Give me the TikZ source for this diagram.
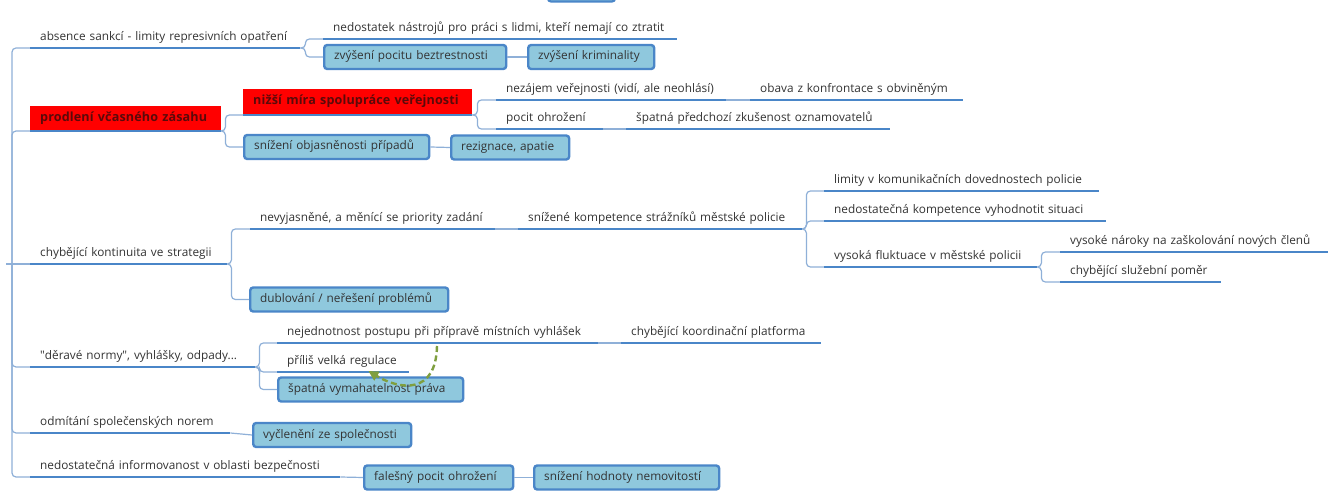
\documentclass[tikz,border=0pt]{standalone}
\usepackage{fontspec}
\setmainfont{Open Sans}
\usetikzlibrary{arrows.meta,calc}
\definecolor{ublue}{HTML}{4A86C8}
\definecolor{cblue}{HTML}{8FB0D8}
\definecolor{bfill}{HTML}{8FC8DD}
\definecolor{tgray}{HTML}{333333}
\definecolor{rtext}{HTML}{5A0A0A}
\definecolor{ggreen}{HTML}{7F9F3F}
\tikzset{
  base/.style={font=\fontsize{11.8}{14}\selectfont, text=tgray},
  topic/.style={base, anchor=south west, inner xsep=10pt, inner ysep=0pt,
    text height=9pt, text depth=7.5pt, text width=#1},
  uline/.style={draw=ublue, line width=2.4pt},
  conn/.style={draw=cblue, line width=1.2pt, rounded corners=4pt},
  bluebox/.style={base, anchor=west, draw=ublue, line width=2.4pt, fill=bfill,
    rounded corners=3pt, inner xsep=10pt, inner ysep=0pt, minimum height=24pt,
    text height=9pt, text depth=3pt, text width=#1},
  redbox/.style={anchor=south west, fill=red, text=rtext,
    font=\fontsize{12.6}{14}\selectfont\bfseries\addfontfeature{LetterSpace=1},
    inner xsep=10pt, inner ysep=0pt,
    minimum height=#1, text height=9pt, text depth=3pt},
  garrow/.style={draw=ggreen, line width=2.4pt, dash pattern=on 6pt off 3.5pt,
    -{Triangle[length=10pt,width=10pt]}, fill=none},
}
\begin{document}
\begin{tikzpicture}[x=1pt,y=-1pt]
\useasboundingbox (0,0) rectangle (1331,494);
\fill[white] (0,0) rectangle (1331,494);

% partial box at the top edge
\draw[draw=ublue, line width=2.2pt, fill=bfill, rounded corners=3pt] (548,-30) rectangle (615,1.5);

% trunk
\coordinate (root) at (6,264);
\coordinate (tr) at (12,264);

% main topics
\node[topic=250pt] (t1) at (30,48) {absence sankcí - limity represivních opatření};
\node[redbox=25pt, text width=171pt] (r1) at (30,131) {prodlení včasného zásahu};
\node[topic=177pt] (t3) at (30,264) {chybějící kontinuita ve strategii};
\node[topic=205pt] (t4) at (30,367) {\textquotedbl děravé normy\textquotedbl, vyhlášky, odpady...};
\node[topic=180pt] (t5) at (30,433) {odmítání společenských norem};
\node[topic=290pt] (t6) at (30,477) {nedostatečná informovanost v oblasti bezpečnosti};

% branch 1
\node[topic=334pt] (c1a) at (323,39) {nedostatek nástrojů pro práci s lidmi, kteří nemají co ztratit};
\node[bluebox=162pt] (b1) at (323,57) {zvýšení pocitu beztrestnosti};
\node[bluebox=106pt] (b2) at (527,57) {zvýšení kriminality};

% branch 2
\node[redbox=26pt, text width=209pt] (r2) at (243,115) {nižší míra spolupráce veřejnosti};
\node[bluebox=165pt] (b3) at (243,147) {snížení objasněnosti případů};
\node[bluebox=98pt] (b4) at (450,147.5) {rezignace, apatie};
\node[topic=210pt] (p1) at (496,100) {nezájem veřejnosti (vidí, ale neohlásí)};
\node[topic=193pt] (p2) at (750,100) {obava z konfrontace s obviněným};
\node[topic=87pt] (p3) at (496,129) {pocit ohrožení};
\node[topic=244pt] (p4) at (626,129) {špatná předchozí zkušenost oznamovatelů};

% branch 3
\node[topic=225pt] (n1) at (250,229) {nevyjasněné, a měnící se priority zadání};
\node[topic=264pt] (n2) at (518,229) {snížené kompetence strážníků městské policie};
\node[topic=255pt] (n3) at (824,191) {limity v komunikačních dovednostech policie};
\node[topic=262pt] (n4) at (824,221) {nedostatečná kompetence vyhodnotit situaci};
\node[topic=193pt] (n5) at (824,267) {vysoká fluktuace v městské policii};
\node[topic=248pt] (n6) at (1060,252) {vysoké nároky na zaškolování nových členů};
\node[topic=141pt] (n7) at (1060,282) {chybějící služební poměr};
\node[bluebox=178pt] (b5) at (249,299.5) {dublování / neřešení problémů};

% branch 4
\node[topic=301pt] (d1) at (277,343) {nejednotnost postupu při přípravě místních vyhlášek};
\node[topic=180pt] (d2) at (621,343) {chybějící koordinační platforma};
\node[topic=112pt] (d3) at (277,372) {příliš velká regulace};
\node[bluebox=165pt] (b6) at (277,389.5) {špatná vymahatelnost práva};

% branch 5, 6
\node[bluebox=138pt] (b7) at (252,435) {vyčlenění ze společnosti};
\node[bluebox=129pt] (b8) at (363,477.5) {falešný pocit ohrožení};
\node[bluebox=165pt] (b9) at (533,477.5) {snížení hodnoty nemovitostí};

% connectors: trunk
\draw[conn] (root) -- (tr);
\draw[conn] (tr) |- (t1.south west);
\draw[conn] (tr) |- (r1.south west);
\draw[conn] (tr) -- (t3.south west);
\draw[conn] (tr) |- (t4.south west);
\draw[conn] (tr) |- (t5.south west);
\draw[conn] (tr) |- (t6.south west);

% branch 1
\draw[conn] (t1.south east) -- ++(5,0) |- (c1a.south west);
\draw[conn] (t1.south east) -- ++(5,0) |- (b1.west);
\draw[conn] (b1.east) -- (b2.west);

% branch 2
\draw[conn] (r1.south east) -- ++(4,0) |- (r2.south west);
\draw[conn] (r1.south east) -- ++(4,0) |- (b3.west);
\draw[conn] (b3.east) -- (b4.west);
\draw[conn] (r2.south east) -- ++(5,0) |- (p1.south west);
\draw[conn] (r2.south east) -- ++(5,0) |- (p3.south west);
\draw[conn] (p1.south east) -- (p2.south west);
\draw[conn] (p3.south east) -- (p4.south west);

% branch 3
\draw[conn] (t3.south east) -- ++(4,0) |- (n1.south west);
\draw[conn] (t3.south east) -- ++(4,0) |- (b5.west);
\draw[conn] (n1.south east) -- (n2.south west);
\draw[conn] (n2.south east) -- ++(4,0) |- (n3.south west);
\draw[conn] (n2.south east) -- ++(4,0) |- (n4.south west);
\draw[conn] (n2.south east) -- ++(4,0) |- (n5.south west);
\draw[conn] (n5.south east) -- ++(4,0) |- (n6.south west);
\draw[conn] (n5.south east) -- ++(4,0) |- (n7.south west);

% branch 4
\draw[conn] (t4.south east) -- ++(4,0) |- (d1.south west);
\draw[conn] (t4.south east) -- ++(4,0) |- (d3.south west);
\draw[conn] (t4.south east) -- ++(4,0) |- (b6.west);
\draw[conn] (d1.south east) -- (d2.south west);

% branch 5, 6
\draw[conn] (t5.south east) -- (b7.west);
\draw[conn] (t6.south east) -- (b8.west);
\draw[conn] (b8.east) -- (b9.west);

% underlines
\foreach \n in {t1,r1,t3,t4,t5,t6,c1a,r2,p1,p2,p3,p4,n1,n2,n3,n4,n5,n6,n7,d1,d2,d3}
  \draw[uline] (\n.south west) -- (\n.south east);

% dashed relation arrow
\draw[garrow] ($(d1.south west)+(160,3)$) .. controls (436,395) and (400,390) .. ($(d3.south east)+(-41,-1)$);
\end{tikzpicture}
\end{document}
